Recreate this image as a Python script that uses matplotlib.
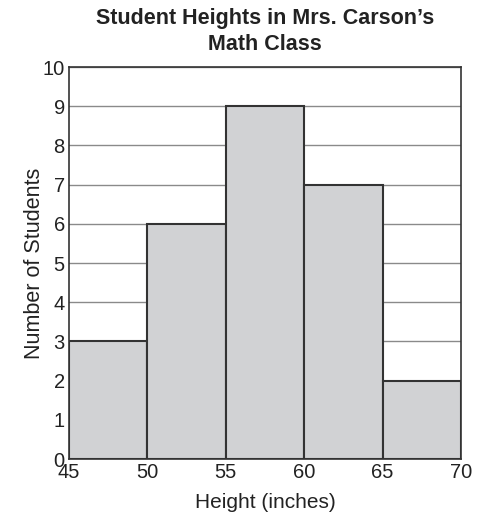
import matplotlib.pyplot as plt
import numpy as np

plt.rcParams['font.family'] = ['Liberation Sans', 'DejaVu Sans']

bin_edges = [45, 50, 55, 60, 65, 70]
counts = [3, 6, 9, 7, 2]

fig = plt.figure(figsize=(4.83, 5.14), dpi=100)
ax = fig.add_axes([0.1429, 0.107, 0.8116, 0.7626])

ax.set_axisbelow(True)
ax.yaxis.grid(True, color='#8a8a8a', linewidth=1.0)
ax.bar(bin_edges[:-1], counts, width=np.diff(bin_edges), align='edge',
       color='#d1d2d4', edgecolor='#333333', linewidth=1.5)

ax.set_xlim(45, 70)
ax.set_ylim(0, 10)
ax.set_xticks(bin_edges)
ax.set_yticks(np.arange(0, 11))
ax.tick_params(length=0, labelsize=14.5, colors='#222222')
ax.tick_params(axis='x', pad=3)
ax.tick_params(axis='y', pad=3)
for s in ax.spines.values():
    s.set_color('#333333')
    s.set_linewidth(1.2)

ax.set_xlabel('Height (inches)', fontsize=15, color='#222222', labelpad=8)
ax.set_ylabel('Number of Students', fontsize=15.5, color='#222222', labelpad=-2)
ax.set_title('Student Heights in Mrs. Carson\u2019s\nMath Class', fontsize=15.5,
             fontweight='bold', color='#222222', pad=12, linespacing=1.35)

plt.savefig('out.png', dpi=100)
